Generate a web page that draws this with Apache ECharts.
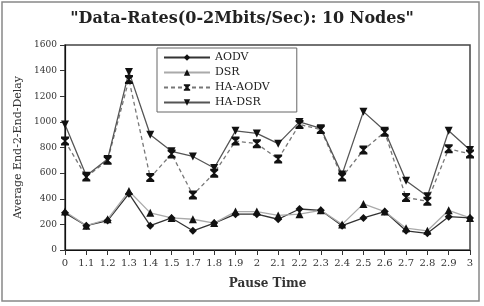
<!DOCTYPE html>
<html>
<head>
<meta charset="utf-8">
<script src="https://cdn.jsdelivr.net/npm/echarts@6/dist/echarts.min.js"></script>
<style>
  html, body { margin:0; padding:0; background:#fff; }
  #chart { width:484px; height:306px; }
</style>
</head>
<body>
<div id="chart"></div>
<script>
const pauseTimes = ['0','1.1','1.2','1.3','1.4','1.5','1.7','1.8','1.9','2','2.1','2.2','2.3','2.4','2.5','2.6','2.7','2.8','2.9','3'];
const aodv   = [290,190,230,440,190,250,150,210,280,280,240,320,310,190,250,300,150,130,260,250];
const dsr    = [300,190,240,460,290,250,240,210,300,300,270,280,310,200,360,300,170,150,310,250];
const haAodv = [850,570,700,1330,565,750,430,600,850,830,710,980,940,570,780,920,410,380,790,750];
const haDsr  = [980,580,710,1390,900,770,730,640,930,910,830,1000,950,590,1080,930,540,420,930,780];

const serif = '"DejaVu Serif", "Liberation Serif", serif';
const bowtie = 'path://M0,0 L10,0 L10,2 L6,5 L10,8 L10,10 L0,10 L0,8 L4,5 L0,2 Z';

const myChart = echarts.init(document.getElementById('chart'));
let option = {
    animation:false,
    title:{
        text:'"Data-Rates(0-2Mbits/Sec): 10 Nodes"',
        left:'center',
        top:6,
        textStyle:{ fontFamily:serif, fontSize:16, fontWeight:'bold', color:'#222' }
    },
    grid:{
        left:65,
        right:14,
        top:45,
        bottom:56,
        show:true,
        borderColor:'#444',
        borderWidth:1.5
    },
    legend:{
        orient:'vertical',
        left:157,
        top:48,
        itemWidth:46,
        itemHeight:8,
        itemGap:4,
        padding:[4,27,4,6],
        borderColor:'#666',
        borderWidth:1,
        textStyle:{ fontFamily:serif, fontSize:11, color:'#222' },
        data:['AODV','DSR','HA-AODV','HA-DSR']
    },
    xAxis:{
        type:'category',
        boundaryGap:false,
        data:pauseTimes,
        name:'Pause Time',
        nameLocation:'middle',
        nameGap:28,
        nameTextStyle:{ fontFamily:serif, fontSize:12, fontWeight:'bold', color:'#333' },
        axisLine:{ lineStyle:{ color:'#111', width:1.2 } },
        axisTick:{ alignWithLabel:true, lineStyle:{ color:'#333' } },
        axisLabel:{ fontFamily:serif, fontSize:10, color:'#333', interval:0, margin:8 }
    },
    yAxis:{
        type:'value',
        min:0,
        max:1600,
        interval:200,
        name:'Average End-2-End-Delay',
        nameLocation:'middle',
        nameGap:40,
        nameTextStyle:{ fontFamily:serif, fontSize:11, color:'#333' },
        axisLine:{ show:true, lineStyle:{ color:'#111', width:1.2 } },
        axisTick:{ show:true, lineStyle:{ color:'#333' } },
        axisLabel:{ fontFamily:serif, fontSize:9, color:'#333', formatter:v=>String(v) },
        splitLine:{ show:false }
    },
    series:[
        {
            name:'AODV', type:'line', data:aodv,
            symbol:'diamond', symbolSize:8,
            lineStyle:{ color:'#333', width:1.3 },
            itemStyle:{ color:'#111' }
        },
        {
            name:'DSR', type:'line', data:dsr,
            symbol:'triangle', symbolSize:8,
            lineStyle:{ color:'#aaa', width:1.3 },
            itemStyle:{ color:'#111' }
        },
        {
            name:'HA-AODV', type:'line', data:haAodv,
            symbol:bowtie, symbolSize:[8,9],
            lineStyle:{ color:'#777', width:1.3, type:[4,3] },
            itemStyle:{ color:'#111' }
        },
        {
            name:'HA-DSR', type:'line', data:haDsr,
            symbol:'triangle', symbolRotate:180, symbolSize:8,
            lineStyle:{ color:'#555', width:1.3 },
            itemStyle:{ color:'#111' }
        }
    ],
    graphic:[{
        type:'rect',
        shape:{ x:2, y:2, width:477, height:299 },
        style:{ fill:'none', stroke:'#888', lineWidth:1.5 },
        silent:true
    }]
};
myChart.setOption(option);
</script>
</body>
</html>
